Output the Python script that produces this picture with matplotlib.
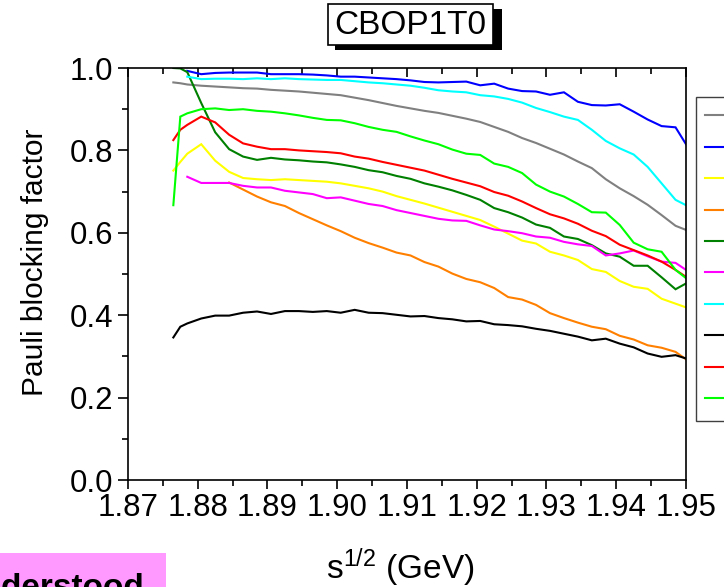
import numpy as np
import matplotlib
matplotlib.use("Agg")
import matplotlib.pyplot as plt
from matplotlib.patches import Rectangle
from matplotlib.ticker import MultipleLocator

plt.rcParams['font.family'] = ['Liberation Sans', 'DejaVu Sans']
plt.rcParams['mathtext.fontset'] = 'custom'
plt.rcParams['mathtext.rm'] = 'Liberation Sans'
plt.rcParams['mathtext.it'] = 'Liberation Sans:italic'

# centre-of-mass energy grid (GeV)
sqrt_s = [1.8765, 1.8775, 1.8785, 1.8805, 1.8825, 1.8845, 1.8865, 1.8885, 1.8905,
          1.8925, 1.8945, 1.8965, 1.8985, 1.9005, 1.9025, 1.9045, 1.9065, 1.9085,
          1.9105, 1.9125, 1.9145, 1.9165, 1.9185, 1.9205, 1.9225, 1.9245, 1.9265,
          1.9285, 1.9305, 1.9325, 1.9345, 1.9365, 1.9385, 1.9405, 1.9425, 1.9445,
          1.9465, 1.9485, 1.9500]

gray = [0.965, 0.963, 0.960, 0.957, 0.955, 0.953, 0.951, 0.950, 0.947, 0.945, 0.943,
        0.940, 0.937, 0.934, 0.928, 0.922, 0.915, 0.908, 0.902, 0.896, 0.891, 0.884,
        0.877, 0.869, 0.857, 0.845, 0.830, 0.818, 0.804, 0.790, 0.773, 0.757, 0.730,
        0.708, 0.689, 0.668, 0.643, 0.617, 0.607]
blue = [None, None, 0.993, 0.985, 0.988, 0.989, 0.989, 0.989, 0.985, 0.985, 0.985,
        0.984, 0.982, 0.979, 0.979, 0.977, 0.975, 0.973, 0.970, 0.966, 0.965, 0.966,
        0.967, 0.958, 0.962, 0.950, 0.944, 0.943, 0.935, 0.941, 0.918, 0.910, 0.909,
        0.912, 0.894, 0.875, 0.859, 0.856, 0.815]
yellow = [0.751, 0.772, 0.792, 0.815, 0.775, 0.748, 0.733, 0.730, 0.728, 0.730, 0.728,
          0.726, 0.724, 0.720, 0.714, 0.708, 0.700, 0.689, 0.680, 0.671, 0.661, 0.651,
          0.641, 0.631, 0.615, 0.598, 0.581, 0.574, 0.554, 0.545, 0.534, 0.512, 0.505,
          0.483, 0.469, 0.464, 0.440, 0.428, 0.419]
orange = [None, None, None, None, None, 0.722, 0.705, 0.688, 0.674, 0.665, 0.648,
          0.633, 0.618, 0.604, 0.588, 0.575, 0.564, 0.552, 0.545, 0.529, 0.518, 0.501,
          0.488, 0.480, 0.466, 0.444, 0.438, 0.425, 0.405, 0.393, 0.382, 0.372, 0.366,
          0.350, 0.341, 0.327, 0.321, 0.311, 0.293]
dark_green = [1.000, 0.999, 0.990, 0.915, 0.844, 0.803, 0.785, 0.777, 0.782, 0.778,
              0.776, 0.773, 0.771, 0.766, 0.760, 0.752, 0.747, 0.738, 0.731, 0.720,
              0.712, 0.703, 0.692, 0.680, 0.660, 0.650, 0.637, 0.620, 0.612, 0.591,
              0.585, 0.570, 0.550, 0.542, 0.520, 0.520, 0.492, 0.463, 0.477]
magenta = [None, None, 0.736, 0.721, 0.721, 0.721, 0.714, 0.710, 0.710, 0.702, 0.698,
           0.694, 0.684, 0.686, 0.678, 0.670, 0.665, 0.655, 0.648, 0.641, 0.634, 0.630,
           0.629, 0.618, 0.608, 0.604, 0.599, 0.591, 0.588, 0.578, 0.572, 0.568, 0.545,
           0.550, 0.557, 0.543, 0.530, 0.527, 0.510]
cyan = [None, None, 0.979, 0.973, 0.974, 0.974, 0.973, 0.975, 0.973, 0.975, 0.973,
        0.972, 0.971, 0.971, 0.968, 0.965, 0.963, 0.960, 0.957, 0.952, 0.946, 0.943,
        0.941, 0.934, 0.931, 0.925, 0.916, 0.903, 0.893, 0.882, 0.874, 0.850, 0.823,
        0.805, 0.790, 0.760, 0.720, 0.680, 0.667]
black = [0.346, 0.372, 0.380, 0.392, 0.399, 0.399, 0.406, 0.409, 0.403, 0.410, 0.410,
         0.408, 0.410, 0.406, 0.413, 0.406, 0.405, 0.401, 0.397, 0.398, 0.393, 0.390,
         0.385, 0.386, 0.378, 0.376, 0.373, 0.367, 0.362, 0.355, 0.348, 0.339, 0.343,
         0.331, 0.322, 0.307, 0.299, 0.303, 0.295]
red = [0.825, 0.850, 0.862, 0.882, 0.868, 0.838, 0.817, 0.809, 0.803, 0.803, 0.800,
       0.798, 0.796, 0.793, 0.785, 0.780, 0.772, 0.765, 0.758, 0.751, 0.741, 0.731,
       0.722, 0.713, 0.699, 0.690, 0.676, 0.660, 0.645, 0.635, 0.622, 0.605, 0.592,
       0.571, 0.558, 0.545, 0.530, 0.510, 0.493]
green = [0.667, 0.882, 0.890, 0.900, 0.902, 0.898, 0.900, 0.896, 0.894, 0.890, 0.885,
         0.879, 0.874, 0.873, 0.866, 0.857, 0.850, 0.845, 0.834, 0.824, 0.815, 0.802,
         0.792, 0.789, 0.768, 0.760, 0.745, 0.717, 0.700, 0.688, 0.670, 0.650, 0.649,
         0.619, 0.576, 0.560, 0.554, 0.510, 0.490]

series = [gray, blue, yellow, orange, dark_green, magenta, cyan, black, red, green]
colors = ['#808080', '#0000ff', '#ffff00', '#ff8000', '#008000',
          '#ff00ff', '#00ffff', '#000000', '#ff0000', '#00ff00']

x_ticks = [1.87, 1.88, 1.89, 1.90, 1.91, 1.92, 1.93, 1.94, 1.95]
x_tick_labels = ['1.87', '1.88', '1.89', '1.90', '1.91', '1.92', '1.93', '1.94', '1.95']
y_ticks = [0.0, 0.2, 0.4, 0.6, 0.8, 1.0]
y_tick_labels = ['0.0', '0.2', '0.4', '0.6', '0.8', '1.0']

W, H = 724, 587
fig = plt.figure(figsize=(W / 100, H / 100), dpi=100)
ax = fig.add_axes([128 / W, 1 - 480 / H, 558 / W, 412 / H])

x = np.array(sqrt_s)
handles = []
for vals, c in zip(series, colors):
    y = np.array(vals, dtype=float)
    ln, = ax.plot(x, y, color=c, lw=1.5, solid_joinstyle='miter')
    handles.append(ln)

ax.set_xlim(1.87, 1.95)
ax.set_ylim(0.0, 1.0)
ax.set_xticks(x_ticks, labels=x_tick_labels)
ax.set_yticks(y_ticks, labels=y_tick_labels)
ax.xaxis.set_minor_locator(MultipleLocator(0.005))
ax.yaxis.set_minor_locator(MultipleLocator(0.1))

for s in ax.spines.values():
    s.set_linewidth(1.2)
ax.tick_params(axis='both', which='both', width=1.2, labelsize=22.5)
ax.tick_params(axis='y', which='major', direction='out', length=7, pad=3.5,
               left=True, right=False)
ax.tick_params(axis='y', which='minor', direction='out', length=4, left=True, right=False)
ax.tick_params(axis='x', which='major', direction='out', length=6.5, pad=3,
               bottom=True, top=True)
ax.tick_params(axis='x', which='minor', direction='out', length=4, bottom=True, top=True)
for t in ax.xaxis.get_major_ticks() + ax.xaxis.get_minor_ticks():
    t.tick2line.set_marker(3)  # top ticks point inward

fig.text(35 / W, 1 - 262 / H, 'Pauli blocking factor', rotation=90,
         ha='center', va='center', fontsize=21.5)
fig.text(400 / W, 1 - 568 / H, r's$^{\mathrm{1/2}}$ (GeV)',
         ha='center', va='center', fontsize=24)

# title box with drop shadow
fig.patches.append(Rectangle((335 / W, 1 - 50 / H), 167 / W, 41 / H,
                             transform=fig.transFigure, fc='black', ec='none', zorder=1))
fig.patches.append(Rectangle((328 / W, 1 - 45 / H), 165 / W, 41 / H,
                             transform=fig.transFigure, fc='white', ec='black',
                             lw=1.2, zorder=2))
fig.text(410.5 / W, 1 - 25.5 / H, 'CBOP1T0', ha='center', va='center',
         fontsize=24, zorder=3)

# key of line colours along the right edge
leg = ax.legend(handles=handles, labels=[''] * len(handles), loc='upper left',
                bbox_to_anchor=(696 / W, 1 - 97 / H), bbox_transform=fig.transFigure,
                fontsize=19, labelspacing=0.28, borderpad=0.33, borderaxespad=0,
                handlelength=2.5, fancybox=False, framealpha=1, edgecolor='#404040')
leg.get_frame().set_linewidth(1.0)

# highlighted note at the lower left corner
fig.patches.append(Rectangle((0, 0), 166 / W, 34 / H, transform=fig.transFigure,
                             fc='#ff99ff', ec='none', zorder=1))
fig.text(145 / W, -10 / H, 'understood', ha='right', va='baseline',
         fontsize=24, fontweight='bold', zorder=3)

fig.savefig('out.png', dpi=100)
